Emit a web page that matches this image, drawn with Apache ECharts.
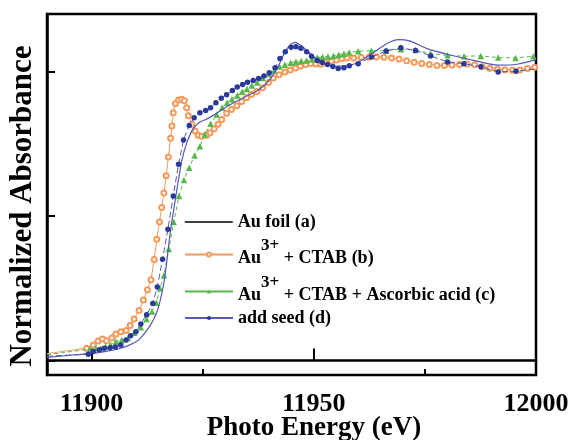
<!DOCTYPE html>
<html>
<head>
<meta charset="utf-8">
<script src="https://cdn.jsdelivr.net/npm/echarts@6/dist/echarts.min.js"></script>
<style>html,body{margin:0;padding:0;background:#fff}#c{width:569px;height:440px}</style>
</head>
<body>
<div id="c"></div>
<script>
// ---- data: [photon energy (eV), normalized absorbance] ----
const xTicks = [11900, 11950, 12000];
const xMinorTicks = [11925, 11975];
const yTicks = [0, 0.5, 1.0];

const seriesNames = ['Au foil (a)', 'Au3+ + CTAB (b)', 'Au3+ + CTAB + Ascorbic acid (c)', 'add seed (d)'];

const foilA = [
  [11890,0.011],[11895,0.018],[11900,0.025],[11903,0.031],[11906,0.04],[11908,0.05],[11910,0.065],[11911,0.077],
  [11913.2,0.121],[11914.7,0.167],[11915.8,0.23],[11916.6,0.3],[11917.7,0.44],[11919.2,0.59],[11920.3,0.69],
  [11921.4,0.752],[11922.9,0.803],[11924.4,0.826],[11925.9,0.836],[11927.4,0.849],[11928.9,0.864],[11930.4,0.879],
  [11932.7,0.899],[11934.9,0.916],[11937.2,0.933],[11939.5,0.962],[11941.7,1.01],[11944,1.08],[11945.8,1.102],
  [11947.2,1.09],[11948.7,1.07],[11951.4,1.037],[11954.3,1.02],[11957.5,1.02],[11960.4,1.037],[11963.3,1.065],
  [11966.5,1.098],[11969,1.111],[11971.7,1.106],[11975.5,1.08],[11980.7,1.058],[11986.7,1.037],[11991.5,1.023],
  [11995.7,1.026],[12000,1.042]
];

const ctabB = [
  [11890,0.024],[11898.9,0.043],[11900.4,0.054],[11901.5,0.068],[11902.5,0.075],[11903.4,0.069],[11904.6,0.078],
  [11905.5,0.092],[11906.6,0.10],[11907.8,0.104],[11908.7,0.121],[11909.6,0.144],[11910.7,0.173],[11911.7,0.21],
  [11912.6,0.245],[11913.4,0.28],[11914.1,0.35],[11914.7,0.42],[11915.3,0.48],[11915.8,0.53],[11916.3,0.58],
  [11916.8,0.64],[11917.3,0.705],[11917.8,0.77],[11918.1,0.812],[11918.4,0.858],[11918.9,0.89],[11919.6,0.902],
  [11920.3,0.905],[11920.9,0.9],[11921.4,0.875],[11921.8,0.848],[11922.6,0.818],[11923.3,0.795],[11924,0.78],
  [11924.8,0.777],[11925.9,0.78],[11926.7,0.789],[11927.6,0.803],[11928.5,0.818],[11929.3,0.835],[11930.4,0.856],
  [11931.5,0.869],[11932.7,0.882],[11933.8,0.897],[11934.9,0.91],[11936,0.921],[11937.2,0.932],[11938.5,0.945],
  [11939.8,0.963],[11940.9,0.978],[11942.2,0.99],[11943.5,0.999],[11944.7,1.006],[11945.9,1.013],[11947,1.019],
  [11948.2,1.025],[11949.3,1.029],[11950.5,1.027],[11951.6,1.026],[11952.8,1.031],[11954,1.036],[11955.1,1.041],
  [11956.3,1.045],[11957.5,1.048],[11959,1.048],[11960.7,1.049],[11962.4,1.05],[11964.1,1.051],[11965.8,1.05],
  [11967.5,1.048],[11969.2,1.044],[11970.9,1.038],[11972.6,1.033],[11974.3,1.029],[11976,1.025],[11977.7,1.022],
  [11979.4,1.022],[11981.1,1.023],[11982.8,1.025],[11984.5,1.027],[11986.2,1.024],[11987.9,1.017],[11989.6,1.012],
  [11991.3,1.009],[11993,1.007],[11994.7,1.005],[11996.4,1.006],[11998.1,1.011],[11999.7,1.016]
];

const ascorbicC = [
  [11890,0.02],[11899.7,0.04],[11901,0.042],[11902.1,0.042],[11903.2,0.048],[11904.3,0.055],[11905.5,0.066],
  [11906.8,0.071],[11908.2,0.078],[11909.6,0.096],[11911.1,0.115],[11912.4,0.144],[11913.6,0.17],[11914.6,0.2],
  [11915.4,0.25],[11916.3,0.295],[11917.4,0.386],[11918.5,0.48],[11919.7,0.57],[11920.8,0.625],[11922,0.668],
  [11923.2,0.71],[11924.4,0.742],[11925.5,0.784],[11926.8,0.82],[11928.2,0.852],[11929.4,0.876],[11930.5,0.893],
  [11931.6,0.905],[11932.8,0.918],[11933.9,0.931],[11935,0.94],[11936.1,0.952],[11937.3,0.963],[11938.5,0.978],
  [11939.8,0.992],[11941.1,1.004],[11942.3,1.018],[11943.5,1.024],[11944.8,1.031],[11946,1.035],[11947.2,1.037],
  [11948.4,1.039],[11949.6,1.043],[11950.8,1.049],[11952,1.051],[11953.2,1.053],[11954.4,1.055],[11955.6,1.059],
  [11956.8,1.062],[11958,1.067],[11960,1.071],[11963,1.073],[11966.3,1.073],[11969.6,1.078],[11972.9,1.075],
  [11976.3,1.063],[11980.1,1.057],[11983.8,1.054],[11987.6,1.055],[11991.5,1.049],[11995.4,1.048],[11999.4,1.054]
];

const seedD = [
  [11890,0.015],[11899.3,0.022],[11900.4,0.031],[11901.8,0.037],[11902.9,0.043],[11904.2,0.044],[11905.4,0.047],
  [11906.6,0.054],[11907.8,0.071],[11908.8,0.086],[11910,0.10],[11911.1,0.127],[11912.4,0.159],[11913.8,0.198],
  [11914.8,0.255],[11916,0.351],[11917.2,0.455],[11918.4,0.57],[11919.6,0.68],[11920.7,0.764],[11922,0.814],
  [11923.1,0.841],[11924.4,0.858],[11925.7,0.866],[11926.8,0.875],[11928,0.893],[11929.2,0.908],[11930.4,0.92],
  [11931.7,0.935],[11932.8,0.947],[11934,0.956],[11935.1,0.964],[11936.4,0.97],[11937.6,0.977],[11938.8,0.985],
  [11940,0.997],[11941.3,1.014],[11942.4,1.046],[11943.6,1.069],[11944.9,1.085],[11946,1.087],[11947.1,1.081],
  [11948.4,1.069],[11949.5,1.054],[11950.8,1.039],[11951.9,1.032],[11953.1,1.025],[11954.3,1.018],[11955.5,1.011],
  [11956.8,1.014],[11958,1.021],[11960,1.028],[11963,1.051],[11966.3,1.072],[11969.6,1.083],[11972.9,1.074],
  [11976.3,1.055],[11980.1,1.034],[11983.8,1.028],[11987.6,1.017],[11991.5,0.999],[11995.5,1.002],[12000,1.01]
];

// first point of each measured series is the line start (no marker); seed series also ends without marker
function toData(arr, hidden) {
  return arr.map((p, i) => hidden.includes(i) ? { value: p, symbol: 'none' } : p);
}

const FONT = 'Liberation Serif';
const ORANGE = '#f59a5a', GREEN = '#55b848', NAVY = '#2b3a9a', FOIL = '#5558b5';

const baseText = { fontSize: 18, fontWeight: 'bold', fontFamily: FONT, color: '#000' };
const supRich = {
  b: Object.assign({}, baseText, { lineHeight: 30, verticalAlign: 'bottom' }),
  s: Object.assign({}, baseText, { fontSize: 17, verticalAlign: 'top' })
};
function supFormatter(name) {
  const rest = name.replace('Au3+', '');
  return '{b|Au}{s|3+}{b|' + rest + '}';
}

function legendRow(name, top, extra) {
  return Object.assign({
    data: [name], left: 184, top: top, orient: 'vertical', padding: 0,
    itemWidth: 48, itemHeight: 5, selectedMode: false,
    textStyle: Object.assign({}, baseText)
  }, extra || {});
}

const chart = echarts.init(document.getElementById('c'), null, { renderer: 'canvas' });
chart.setOption({
  animation: false,
  backgroundColor: '#fff',
  grid: { left: 47, right: 33, top: 14, bottom: 65, outerBoundsMode: 'none', containLabel: false,
          show: true, borderColor: '#000', borderWidth: 2.5, backgroundColor: 'transparent' },
  legend: [
    legendRow(seriesNames[0], 213, { data: [{ name: seriesNames[0], lineStyle: { color: '#000', width: 1.6 }, itemStyle: { color: '#000', opacity: 0 } }] }),
    legendRow(seriesNames[1], 237, { data: [{ name: seriesNames[1], lineStyle: { type: 'solid' } }], formatter: supFormatter, textStyle: { rich: supRich, padding: [0, 0, 5, 0] } }),
    legendRow(seriesNames[2], 274, { data: [{ name: seriesNames[2], lineStyle: { type: 'solid' } }], formatter: supFormatter, textStyle: { rich: supRich, padding: [0, 0, 5, 0] } }),
    legendRow(seriesNames[3], 309, { data: [{ name: seriesNames[3], lineStyle: { type: 'solid' } }] })
  ],
  xAxis: [
    {
      type: 'value', min: 11890, max: 12000, position: 'bottom',
      name: 'Photo Energy (eV)', nameLocation: 'middle', nameGap: 40, nameMoveOverlap: false,
      nameTextStyle: { fontSize: 27, fontWeight: 'bold', fontFamily: FONT, color: '#000', padding: [0, 0, 0, 45] },
      axisLine: { lineStyle: { color: '#000', width: 2.5 } },
      axisTick: { inside: true, length: 12, lineStyle: { color: '#000', width: 2 }, customValues: xTicks },
      axisLabel: { customValues: xTicks, formatter: v => String(v), fontSize: 26, fontWeight: 'bold', fontFamily: FONT, color: '#000', margin: 16 },
      splitLine: { show: false }
    },
    {
      type: 'value', min: 11890, max: 12000, position: 'bottom',
      axisLine: { show: false },
      axisTick: { inside: true, length: 6, lineStyle: { color: '#000', width: 2 }, customValues: xMinorTicks },
      axisLabel: { show: false },
      splitLine: { show: false }
    }
  ],
  yAxis: {
    type: 'value', min: -0.05, max: 1.2,
    name: 'Normalized Absorbance', nameLocation: 'middle', nameGap: 9, nameMoveOverlap: false,
    nameTextStyle: { fontSize: 31, fontWeight: 'bold', fontFamily: FONT, color: '#000', padding: [0, 23, 0, 0] },
    axisLine: { lineStyle: { color: '#000', width: 2.5 } },
    axisTick: { inside: true, length: 8, lineStyle: { color: '#000', width: 2 }, customValues: yTicks },
    axisLabel: { show: false },
    splitLine: { show: false }
  },
  series: [
    {
      name: seriesNames[1], type: 'line', data: toData(ctabB, [0]), showAllSymbol: true,
      symbol: 'emptyCircle', symbolSize: 5,
      itemStyle: { color: ORANGE, borderWidth: 1 },
      lineStyle: { color: ORANGE, width: 1 }, z: 2
    },
    {
      name: seriesNames[2], type: 'line', data: toData(ascorbicC, [0]), showAllSymbol: true,
      symbol: 'triangle', symbolSize: 6.5,
      itemStyle: { color: GREEN },
      lineStyle: { color: GREEN, width: 1, type: [4, 3] }, z: 3
    },
    {
      name: seriesNames[0], type: 'line', data: foilA, smooth: 0.3, symbol: 'none',
      lineStyle: { color: FOIL, width: 1.2 }, itemStyle: { color: FOIL }, z: 4
    },
    {
      name: seriesNames[3], type: 'line', data: toData(seedD, [0, seedD.length - 1]), showAllSymbol: true,
      symbol: 'circle', symbolSize: 5.5,
      itemStyle: { color: NAVY },
      lineStyle: { color: FOIL, width: 1, type: [6, 3] }, z: 5
    }
  ]
});
</script>
</body>
</html>
